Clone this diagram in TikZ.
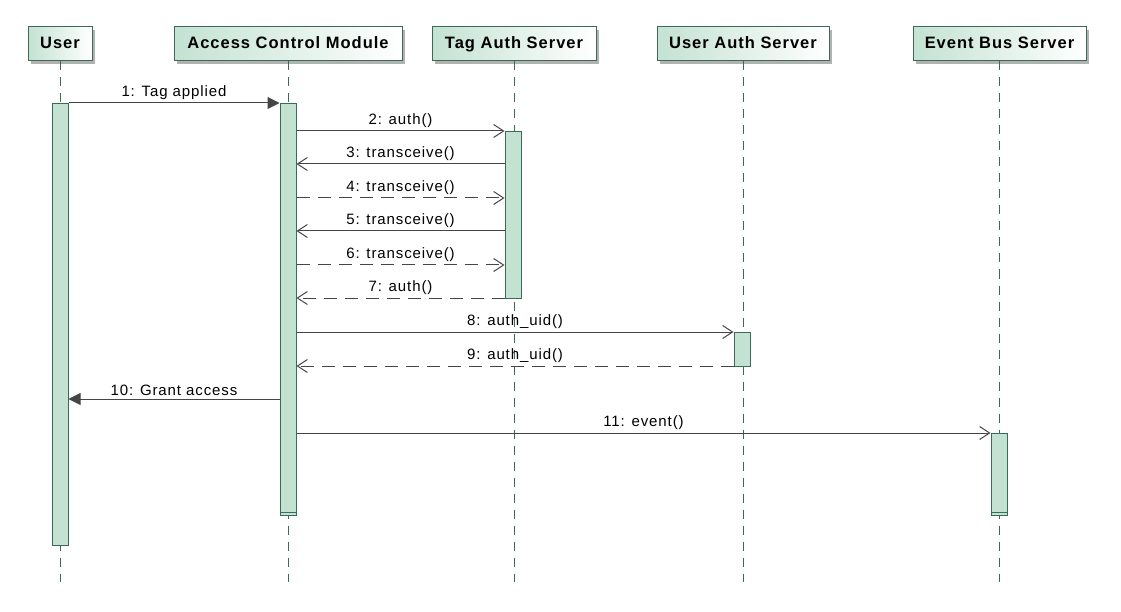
\documentclass[tikz,border=0pt]{standalone}
\usepackage{fontspec}
\setmainfont{Liberation Sans}
\newfontfamily\msgfont[LetterSpace=6]{Liberation Sans}
\newfontfamily\headfont[LetterSpace=6]{Liberation Sans}
\usepackage{tikz}
\usetikzlibrary{arrows.meta,shadows}
\usepackage{xcolor}
\definecolor{umlfill}{HTML}{C3E2D2}
\definecolor{umlline}{HTML}{3B6B58}
\definecolor{msgline}{HTML}{454545}

\begin{document}
\begin{tikzpicture}[
  x=1pt, y=-1pt,
  header/.style={draw=umlline, line width=1pt, left color=umlfill, right color=white, minimum height=34pt,
    inner sep=0pt, text height=13pt, text depth=3pt, font=\headfont\bfseries\fontsize{16.5}{19}\selectfont,
    drop shadow={shadow xshift=3pt, shadow yshift=-3pt, fill=black!30, opacity=1}},
  lifeline/.style={draw=umlline, line width=0.8pt, dash pattern=on 9pt off 7pt},
  bar/.style={draw=umlline, line width=1pt, fill=umlfill, minimum width=16pt, inner sep=0pt, anchor=north},
  msg/.style={draw=msgline, line width=1pt, -{Straight Barb[length=10pt, width=13pt]}},
  reply/.style={msg, dash pattern=on 13pt off 8pt},
  signal/.style={draw=msgline, line width=1pt, -{Triangle[length=12pt, width=12pt]}},
  lbl/.style={above, inner sep=3pt, text=black, font=\msgfont\fontsize{15}{18}\selectfont}
]
\useasboundingbox (0,0) rectangle (1121,612);

% participants
\node[header, minimum width=64pt] (user) at (60,44) {User};
\node[header, minimum width=228pt] (acm) at (288,44) {Access Control Module};
\node[header, minimum width=164pt] (tag) at (514,44) {Tag Auth Server};
\node[header, minimum width=172pt] (uas) at (743,44) {User Auth Server};
\node[header, minimum width=173pt] (ebs) at (999.5,44) {Event Bus Server};

% lifelines
\coordinate (bottom) at (0,582);
\draw[lifeline] (user.south) -- (user.south |- bottom);
\draw[lifeline] (acm.south) -- (acm.south |- bottom);
\draw[lifeline] (tag.south) -- (tag.south |- bottom);
\draw[lifeline] (uas.south) -- (uas.south |- bottom);
\draw[lifeline] (ebs.south) -- (ebs.south |- bottom);

% activations
\node[bar, minimum height=442pt] (barUser) at (60,103) {};
\node[bar, minimum height=412pt] (barAcm) at (288,103) {};
\node[bar, minimum height=167pt] (barTag) at (513,131) {};
\node[bar, minimum height=34pt] (barUas) at (742,332) {};
\node[bar, minimum height=82pt] (barEbs) at (999,433) {};
\draw[umlline, line width=1pt] (barAcm.west |- 0,512) -- (barAcm.east |- 0,512);
\draw[umlline, line width=1pt] (barEbs.west |- 0,512) -- (barEbs.east |- 0,512);

% messages
\draw[signal] (barUser.east |- 0,103) -- node[lbl] {1: Tag applied} (barAcm.west |- 0,103);
\draw[msg] (barAcm.east |- 0,131) -- node[lbl] {2: auth()} (barTag.west |- 0,131);
\draw[msg] (barTag.west |- 0,164) -- node[lbl] {3: transceive()} (barAcm.east |- 0,164);
\draw[reply] (barAcm.east |- 0,198) -- node[lbl] {4: transceive()} (barTag.west |- 0,198);
\draw[msg] (barTag.west |- 0,231) -- node[lbl] {5: transceive()} (barAcm.east |- 0,231);
\draw[reply] (barAcm.east |- 0,265) -- node[lbl] {6: transceive()} (barTag.west |- 0,265);
\draw[reply] (barTag.west |- 0,298) -- node[lbl] {7: auth()} (barAcm.east |- 0,298);
\draw[msg] (barAcm.east |- 0,332) -- node[lbl] {8: auth\_uid()} (barUas.west |- 0,332);
\draw[reply] (barUas.west |- 0,366) -- node[lbl] {9: auth\_uid()} (barAcm.east |- 0,366);
\draw[signal] (barAcm.west |- 0,399) -- node[lbl] {10: Grant access} (barUser.east |- 0,399);
\draw[msg] (barAcm.east |- 0,433) -- node[lbl] {11: event()} (barEbs.west |- 0,433);

\end{tikzpicture}
\end{document}
